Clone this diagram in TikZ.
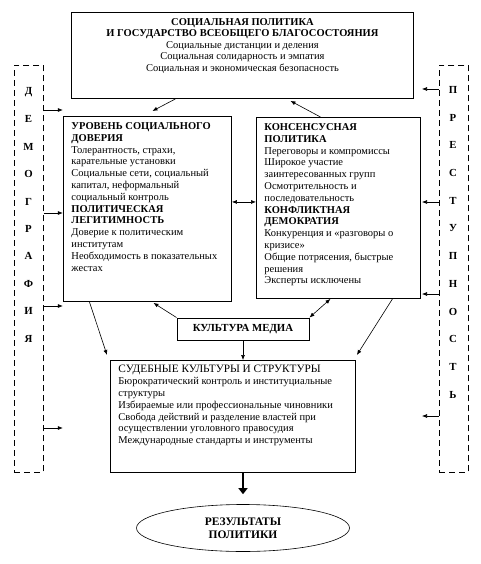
\documentclass[tikz,border=0pt]{standalone}
\usepackage{fontspec}
\setmainfont{Liberation Serif}
\usetikzlibrary{arrows.meta, positioning, shapes.geometric, calc}
\tikzset{
  every picture/.style={x=1pt, y=-1pt, line width=0.6pt},
  panel/.style={draw, line width=0.9pt, inner xsep=8pt, inner ysep=6pt, anchor=north west,
    font=\fontsize{10.5}{11.8}\selectfont},
  tag/.style={draw, line width=0.9pt, minimum width=132pt, minimum height=22pt, inner sep=0pt,
    font=\fontsize{10.8}{11.8}\selectfont\bfseries},
  goal/.style={draw, ellipse, line width=0.6pt, minimum width=213pt, minimum height=47pt, inner sep=0pt,
    align=center, font=\fontsize{11.5}{12.5}\selectfont\bfseries},
  column/.style={draw, dashed, dash pattern=on 6pt off 4pt, line width=0.8pt, inner sep=0pt,
    minimum width=29pt, minimum height=407pt, anchor=north west},
  letter/.style={font=\fontsize{10.8}{11}\selectfont\bfseries},
  arrow/.style={-{Latex[length=5pt, width=4pt]}},
  both/.style={{Latex[length=5pt, width=4pt]}-{Latex[length=5pt, width=4pt]}},
  fat/.style={-{Triangle[length=6pt, width=9pt]}, line width=2.8pt},
}
\begin{document}
\begin{tikzpicture}
  \useasboundingbox (0,0) rectangle (481,564);
  % main boxes
  \node[panel, inner ysep=6pt] (soc) at (71,12) {\parbox[c][74pt][t]{326pt}{\centering
    \textbf{СОЦИАЛЬНАЯ ПОЛИТИКА}\\[-1pt]
    \textbf{И ГОСУДАРСТВО ВСЕОБЩЕГО БЛАГОСОСТОЯНИЯ}\\
    Социальные дистанции и деления\\
    Социальная солидарность и эмпатия\\
    Социальная и экономическая безопасность}};
  \node[panel] (trust) at (63,116) {\parbox[c][173pt][t]{152pt}{
    \textbf{УРОВЕНЬ СОЦИАЛЬНОГО}\\
    \textbf{ДОВЕРИЯ}\\
    Толерантность, страхи,\\
    карательные установки\\
    Социальные сети, социальный\\
    капитал, неформальный\\
    социальный контроль\\
    \textbf{ПОЛИТИЧЕСКАЯ}\\
    \textbf{ЛЕГИТИМНОСТЬ}\\
    Доверие к политическим\\
    институтам\\
    Необходимость в показательных\\
    жестах}};
  \node[panel] (cons) at (256,117) {\parbox[c][169pt][t]{148pt}{
    \textbf{КОНСЕНСУСНАЯ}\\
    \textbf{ПОЛИТИКА}\\
    Переговоры и компромиссы\\
    Широкое участие\\
    заинтересованных групп\\
    Осмотрительность и\\
    последовательность\\
    \textbf{КОНФЛИКТНАЯ}\\
    \textbf{ДЕМОКРАТИЯ}\\
    Конкуренция и «разговоры о\\
    кризисе»\\
    Общие потрясения, быстрые\\
    решения\\
    Эксперты исключены}};
  \node[tag] (media) at (243,329) {КУЛЬТУРА МЕДИА};
  \node[panel, inner ysep=5pt] (court) at (110,360) {\parbox[c][102pt][t]{229pt}{
    {\fontsize{11.3}{11.8}\selectfont СУДЕБНЫЕ КУЛЬТУРЫ И СТРУКТУРЫ}\\
    Бюрократический контроль и институциальные\\
    структуры\\
    Избираемые или профессиональные чиновники\\
    Свобода действий и разделение властей при\\
    осуществлении уголовного правосудия\\
    Международные стандарты и инструменты}};
  \node[goal] (result) at (243,528) {РЕЗУЛЬТАТЫ\\ПОЛИТИКИ};

  % side columns
  \node[column] (demo) at (14,65) {};
  \node[column] (crime) at (439,65) {};
  \foreach \ch [count=\i] in {Д,Е,М,О,Г,Р,А,Ф,И,Я}
    \node[letter] at (28.5,{92+27.4*(\i-1)}) {\ch};
  \foreach \ch [count=\i] in {П,Р,Е,С,Т,У,П,Н,О,С,Т,Ь}
    \node[letter] at (453,{90+27.7*(\i-1)}) {\ch};
  \foreach \yy in {110,213,306,428}
    \draw[arrow] (demo.east |- 0,\yy) -- ++(19,0);
  \foreach \yy in {89,202,294,416}
    \draw[arrow] (crime.west |- 0,\yy) -- ++(-17,0);

  % links
  \draw[arrow] ([xshift=-67pt]soc.south) -- ([xshift=5pt, yshift=5pt]trust.north);
  \draw[arrow] ([xshift=-18pt]cons.north) -- ([xshift=48pt, yshift=-2pt]soc.south);
  \draw[both] ([yshift=7pt]trust.east) -- ([yshift=7pt]trust.east -| cons.west);
  \draw[arrow] ([xshift=-58pt]trust.south) -- ([xshift=-3pt, yshift=5pt]court.north west);
  \draw[arrow] (media.north west) -- ([xshift=6pt, yshift=-1pt]trust.south);
  \draw[both] (media.north east) -- ([xshift=-8pt]cons.south);
  \draw[arrow] ([xshift=54pt]cons.south) -- ([xshift=1pt, yshift=5pt]court.north east);
  \draw[arrow] (media.south) -- (media.south |- court.north);
  \draw[fat] (result.north |- court.south) -- ([yshift=10pt]result.north);
\end{tikzpicture}
\end{document}
